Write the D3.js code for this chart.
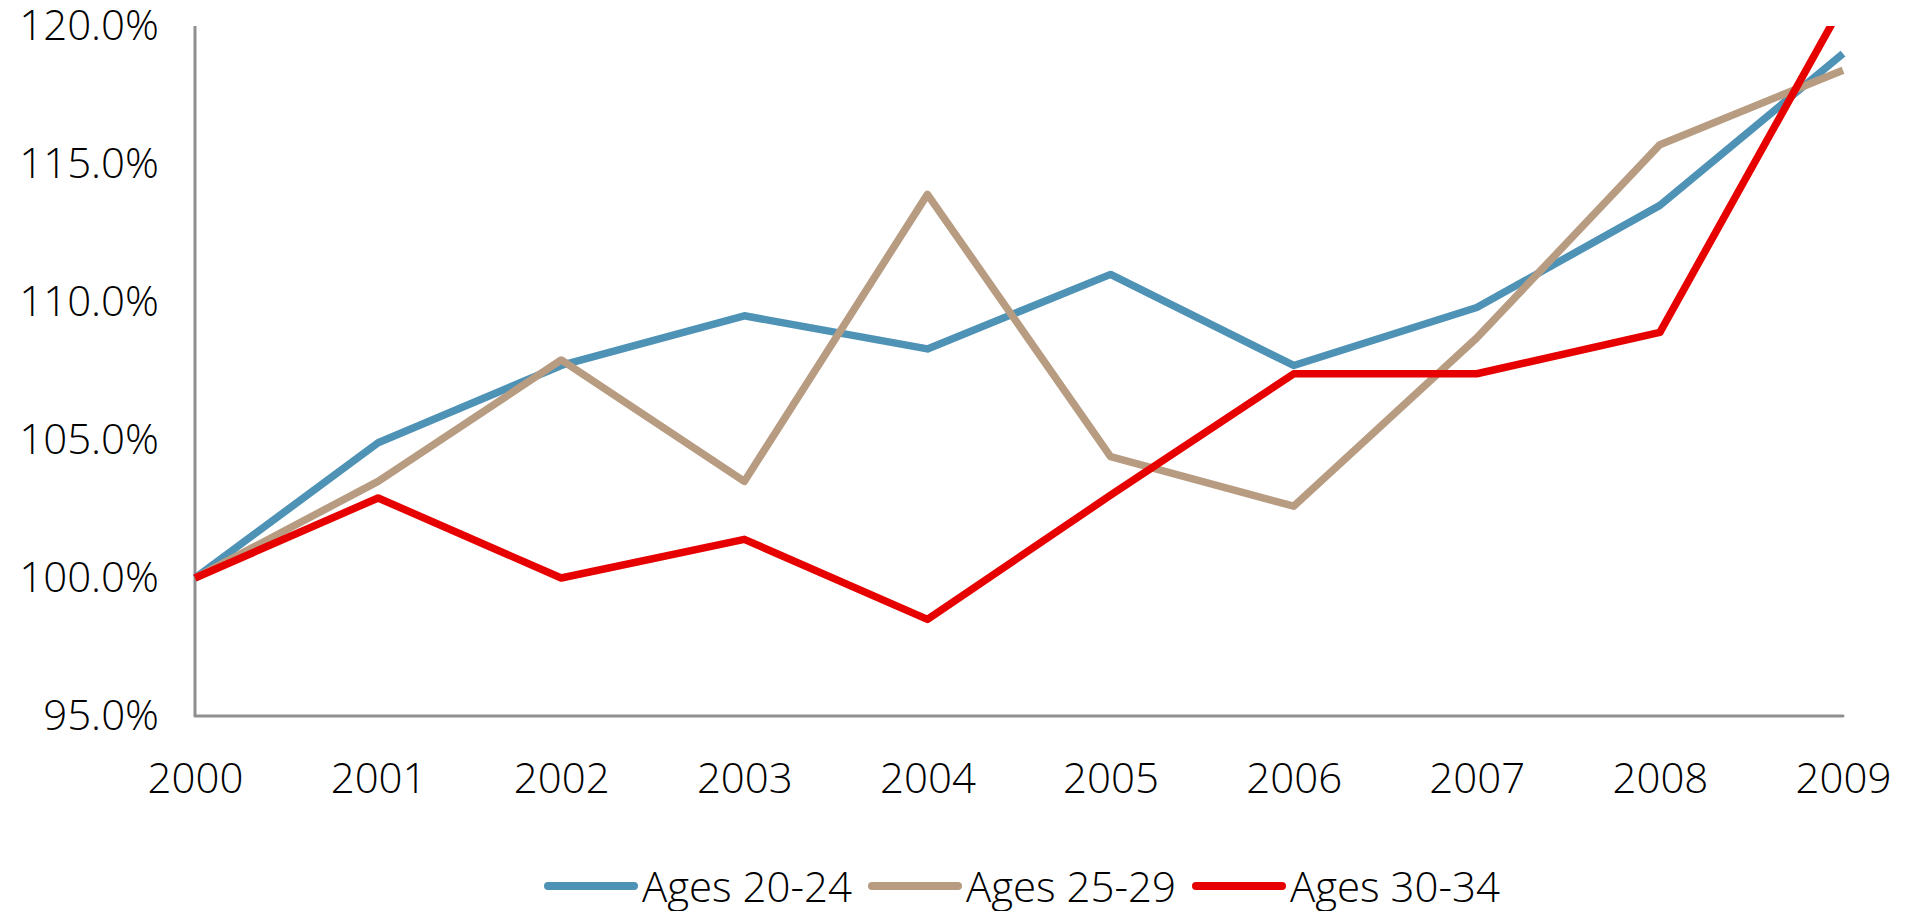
<!DOCTYPE html>
<html>
<head>
<meta charset="utf-8">
<script src="https://cdn.jsdelivr.net/npm/d3@7/dist/d3.min.js"></script>
<style>
  html, body { margin: 0; padding: 0; background: #ffffff; }
  svg { display: block; }
</style>
</head>
<body>
<div id="chart"></div>
<script>
// data
const years = [2000, 2001, 2002, 2003, 2004, 2005, 2006, 2007, 2008, 2009]
const ages2024 = [100.0, 104.9, 107.7, 109.5, 108.3, 111.0, 107.7, 109.8, 113.5, 119.0]
const ages2529 = [100.0, 103.5, 107.9, 103.5, 113.9, 104.4, 102.6, 108.7, 115.7, 118.4]
const ages3034 = [100.0, 102.9, 100.0, 101.4, 98.5, 103.0, 107.4, 107.4, 108.9, 120.8]
const yTicks = [95, 100, 105, 110, 115, 120]
const seriesNames = ['Ages 20-24', 'Ages 25-29', 'Ages 30-34']

const series = [
  { name: seriesNames[0], values: ages2024, color: '#4e92b5' },
  { name: seriesNames[1], values: ages2529, color: '#b89c82' },
  { name: seriesNames[2], values: ages3034, color: '#e60000' }
]

const width = 1911
const height = 911
const fontFamily = '"Open Sans", "Noto Sans", sans-serif'
const fontSize = '42px'
const fontWeight = 300

const margin = { top: 26, right: 68, bottom: 195, left: 195 }

const svg = d3
  .select('#chart')
  .append('svg')
  .attr('width', width)
  .attr('height', height)

const xScale = d3
  .scalePoint()
  .domain(years)
  .range([margin.left, width - margin.right])

const yScale = d3
  .scaleLinear()
  .domain([95, 120])
  .range([height - margin.bottom, margin.top])

// clip lines to the plot area like the original
svg
  .append('defs')
  .append('clipPath')
  .attr('id', 'plotClip')
  .append('rect')
  .attr('x', margin.left - 10)
  .attr('y', yScale(120))
  .attr('width', width - margin.right - margin.left + 20)
  .attr('height', yScale(95) - yScale(120))

const xAxis = (g) => {
  g.attr('transform', `translate(0, ${yScale(95)})`)
    .call(d3.axisBottom(xScale).tickSize(0).tickPadding(47))
    .call((g) =>
      g.select('.domain')
        .attr('stroke', '#8f8f8f')
        .attr('stroke-width', 3)
        .attr('stroke-linecap', 'round')
        .attr('d', `M${margin.left},0H${width - margin.right}`)
    )
    .call((g) =>
      g.selectAll('.tick>text')
        .style('font-family', fontFamily)
        .style('font-size', fontSize)
        .style('font-weight', fontWeight)
        .attr('fill', '#000000')
    )
}

const yAxis = (g) => {
  g.attr('transform', `translate(${margin.left}, 0)`)
    .call(
      d3.axisLeft(yScale)
        .tickValues(yTicks)
        .tickSize(0)
        .tickPadding(36)
        .tickFormat((d) => d3.format('.1f')(d) + '%')
    )
    .call((g) =>
      g.select('.domain')
        .attr('stroke', '#8f8f8f')
        .attr('stroke-width', 3)
        .attr('d', `M0,${yScale(120)}V${yScale(95)}`)
    )
    .call((g) =>
      g.selectAll('.tick>text')
        .style('font-family', fontFamily)
        .style('font-size', fontSize)
        .style('font-weight', fontWeight)
        .attr('fill', '#000000')
    )
}

svg.append('g').call(yAxis)
svg.append('g').call(xAxis)

const line = d3
  .line()
  .x((d, i) => xScale(years[i]))
  .y((d) => yScale(d))

svg
  .append('g')
  .attr('clip-path', 'url(#plotClip)')
  .selectAll('.series-line')
  .data(series)
  .join('path')
  .attr('class', 'series-line')
  .attr('fill', 'none')
  .attr('stroke', (d) => d.color)
  .attr('stroke-width', 7.5)
  .attr('stroke-linejoin', 'round')
  .attr('d', (d) => line(d.values))

// legend
const legendY = 886
const swatchW = 86
const swatchGap = 8
const itemGap = 20

const legend = svg.append('g').attr('class', 'legend')

const items = legend
  .selectAll('.legend-item')
  .data(series)
  .join('g')
  .attr('class', 'legend-item')

items
  .append('line')
  .attr('x1', 0)
  .attr('x2', swatchW)
  .attr('y1', legendY)
  .attr('y2', legendY)
  .attr('stroke', (d) => d.color)
  .attr('stroke-width', 8)
  .attr('stroke-linecap', 'round')

items
  .append('text')
  .attr('x', swatchW + swatchGap)
  .attr('y', legendY + 16)
  .style('font-family', fontFamily)
  .style('font-size', fontSize)
  .style('font-weight', fontWeight)
  .attr('fill', '#000000')
  .text((d) => d.name)

let offset = 0
const widths = []
items.each(function () {
  const w = swatchW + swatchGap + d3.select(this).select('text').node().getComputedTextLength()
  widths.push(w)
})
const total = d3.sum(widths) + itemGap * (widths.length - 1)
const startX = (margin.left + width - margin.right) / 2 - total / 2 + 5
items.attr('transform', (d, i) => {
  const x = startX + offset
  offset += widths[i] + itemGap
  return `translate(${x}, 0)`
})
</script>
</body>
</html>
